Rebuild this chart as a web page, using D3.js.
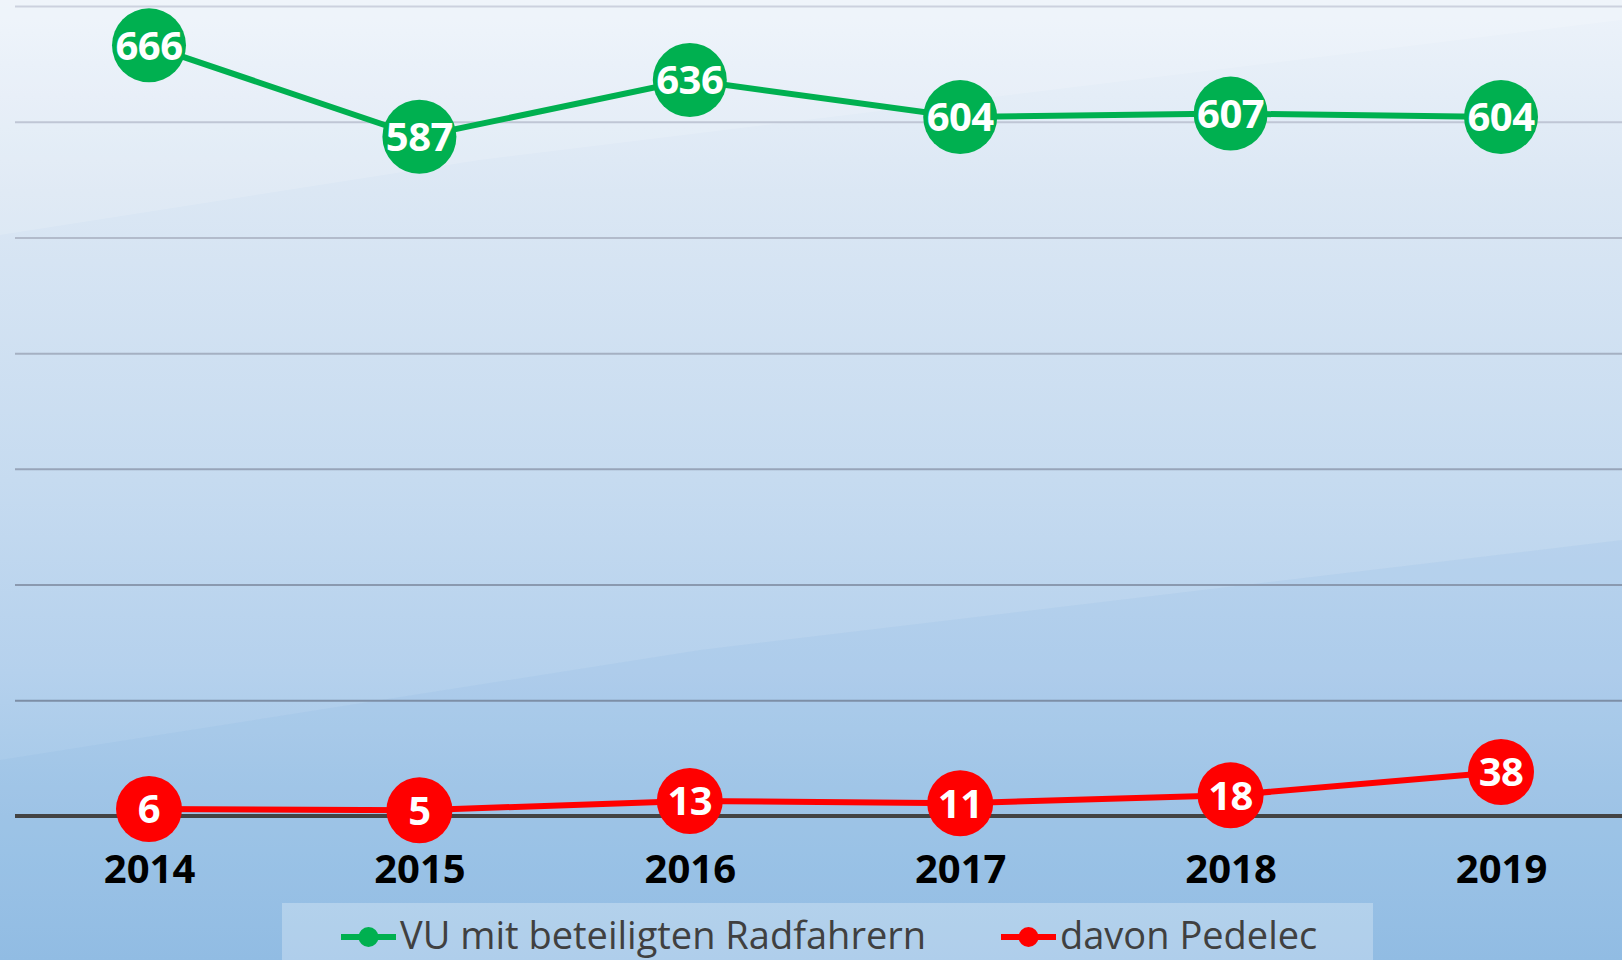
<!DOCTYPE html>
<html>
<head>
<meta charset="utf-8">
<script src="https://cdn.jsdelivr.net/npm/d3@7"></script>
<style>
  html, body { margin: 0; padding: 0; overflow: hidden; }
  svg { display: block; }
</style>
</head>
<body>
<svg width="1622" height="960"></svg>
<script>
const years = ["2014", "2015", "2016", "2017", "2018", "2019"];
const radfahrer = [666, 587, 636, 604, 607, 604];
const pedelec = [6, 5, 13, 11, 18, 38];
const gridValues = [100, 200, 300, 400, 500, 600, 700];
const seriesNames = ["VU mit beteiligten Radfahrern", "davon Pedelec"];

const width = 1622;
const height = 960;
const svg = d3.select("svg");

// background
const defs = svg.append("defs");
const bg = defs.append("linearGradient")
  .attr("id", "bg").attr("x1", 0).attr("y1", 0).attr("x2", 0).attr("y2", 1);
[[0, "#edf3fa"], [0.2, "#dbe7f4"], [0.5, "#c6dbf0"], [0.7, "#b5d1ed"], [0.85, "#a2c7e8"], [1, "#95bfe4"]]
  .forEach(([o, c]) => bg.append("stop").attr("offset", o).attr("stop-color", c));

svg.append("rect").attr("width", width).attr("height", height).attr("fill", "url(#bg)");
svg.append("polygon")
  .attr("points", "0,0 0,235 480,160 1622,20 1622,0")
  .attr("fill", "#ffffff").attr("opacity", 0.15);
svg.append("polygon")
  .attr("points", "0,960 0,760 700,650 1622,540 1622,960")
  .attr("fill", "#7fb0de").attr("opacity", 0.12);

const x = d3.scalePoint().domain(years).range([149, 1501]);
const y = d3.scaleLinear().domain([0, 700]).range([816, 6]);

// gridlines
const gridColor = d3.scaleLinear().domain([700, 100]).range(["#ccd1de", "#7d8ea6"]);
const grid = svg.append("g")
  .attr("transform", "translate(15,0)")
  .call(d3.axisRight(y).tickValues(gridValues).tickSize(width - 15).tickFormat(""));
grid.select(".domain").remove();
grid.selectAll(".tick line")
  .attr("stroke", d => gridColor(d))
  .attr("stroke-width", 2);

// baseline
svg.append("line")
  .attr("x1", 15).attr("x2", width)
  .attr("y1", y(0)).attr("y2", y(0))
  .attr("stroke", "#434343").attr("stroke-width", 4);

// x axis labels
const xAxis = svg.append("g")
  .attr("transform", `translate(0,${y(0)})`)
  .call(d3.axisBottom(x).tickSize(0).tickPadding(39));
xAxis.select(".domain").remove();
xAxis.selectAll("text")
  .attr("font-family", "'Open Sans', sans-serif")
  .attr("font-weight", "bold")
  .attr("font-size", 40)
  .attr("fill", "#000");

const series = [
  { name: seriesNames[0], values: radfahrer, color: "#00b050", r: 37 },
  { name: seriesNames[1], values: pedelec, color: "#ff0000", r: 33 }
];

const line = d3.line()
  .x((d, i) => x(years[i]))
  .y(d => y(d));

series.forEach(s => {
  const g = svg.append("g");
  g.append("path")
    .attr("d", line(s.values))
    .attr("fill", "none")
    .attr("stroke", s.color)
    .attr("stroke-width", 6);
  g.selectAll("circle")
    .data(s.values)
    .join("circle")
    .attr("cx", (d, i) => x(years[i]))
    .attr("cy", d => y(d))
    .attr("r", s.r)
    .attr("fill", s.color);
  g.selectAll("text")
    .data(s.values)
    .join("text")
    .attr("x", (d, i) => x(years[i]))
    .attr("y", d => y(d))
    .attr("dy", "0.36em")
    .attr("text-anchor", "middle")
    .attr("font-family", "'Open Sans', sans-serif")
    .attr("font-weight", "bold")
    .attr("font-size", 40)
    .attr("letter-spacing", -0.5)
    .attr("fill", "#fff")
    .text(d => d);
});

// legend
const legend = svg.append("g");
legend.append("rect")
  .attr("x", 282).attr("y", 903)
  .attr("width", 1091).attr("height", 60)
  .attr("fill", "#ffffff").attr("opacity", 0.28);

const legendX = [341, 1001];
series.forEach((s, i) => {
  const lg = legend.append("g").attr("transform", `translate(${legendX[i]},937)`);
  lg.append("line")
    .attr("x1", 0).attr("x2", 55)
    .attr("stroke", s.color).attr("stroke-width", 6);
  lg.append("circle").attr("cx", 27.5).attr("r", 10).attr("fill", s.color);
  lg.append("text")
    .attr("x", 59).attr("y", 12)
    .attr("font-family", "'Open Sans', sans-serif")
    .attr("font-size", 38)
    .attr("fill", "#404040")
    .text(s.name);
});
</script>
</body>
</html>
